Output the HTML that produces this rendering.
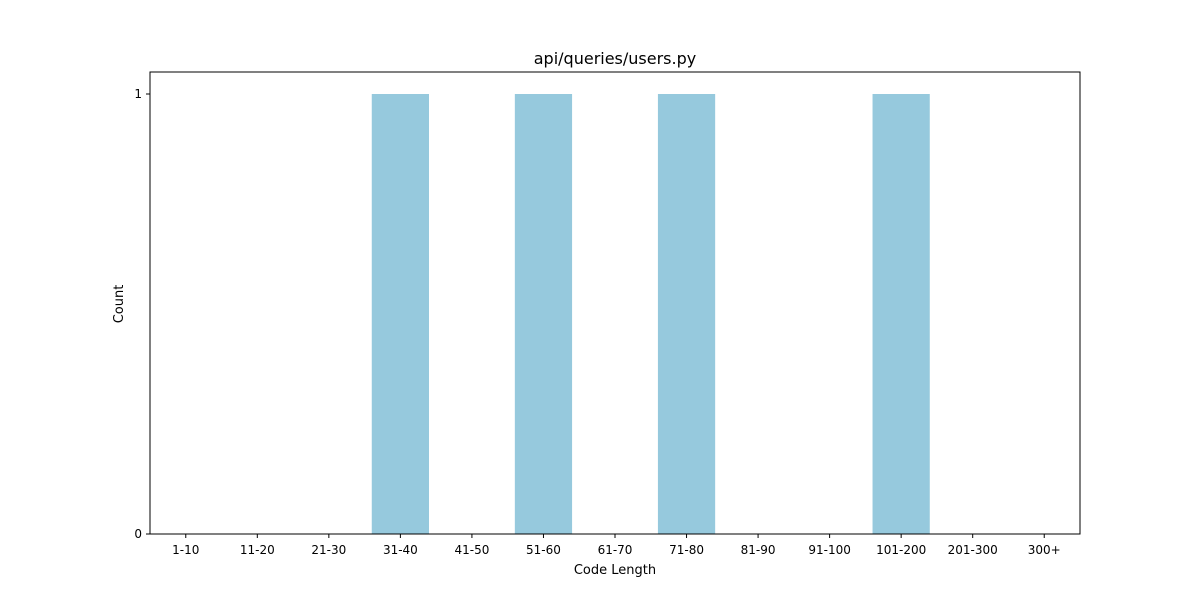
<!DOCTYPE html>
<html><head><meta charset="utf-8"><style>
body{margin:0;background:#fff;}
svg{display:block;font-family:"DejaVu Sans","Liberation Sans",sans-serif;}
</style></head><body>
<svg id="chart" width="1200" height="600">
<rect width="1200" height="600" fill="#fff"/>
<text x="615" y="64" font-size="16" text-anchor="middle">api/queries/users.py</text>
<text x="615" y="574" font-size="13" text-anchor="middle">Code Length</text>
<text transform="translate(123,304) rotate(-90)" font-size="13" text-anchor="middle">Count</text>
<g id="bars"></g><g id="xticks"></g><g id="yticks"></g>
<rect x="150" y="72" width="930" height="462" fill="none" stroke="#000" stroke-width="1"/>
</svg>
<script>
const categories=["1-10","11-20","21-30","31-40","41-50","51-60","61-70","71-80","81-90","91-100","101-200","201-300","300+"];
const counts=[0,0,0,1,0,1,0,1,0,0,1,0,0];
const yTicks=[0,1];
const L=150,R=1080,T=72,B=534,yMax=1.05;
const step=(R-L)/categories.length;
const xC=i=>L+step*(i+0.5);
const yS=v=>B-(B-T)*v/yMax;
const ns="http://www.w3.org/2000/svg";
const bars=document.getElementById('bars'),xt=document.getElementById('xticks'),yt=document.getElementById('yticks');
categories.forEach((c,i)=>{
  const r=document.createElementNS(ns,'rect');
  const w=step*0.8;
  r.setAttribute('x',xC(i)-w/2);r.setAttribute('width',w);
  r.setAttribute('y',yS(counts[i]));r.setAttribute('height',B-yS(counts[i]));
  r.setAttribute('fill','#96c9dd');
  
  
  bars.appendChild(r);
  const l=document.createElementNS(ns,'line');
  l.setAttribute('x1',xC(i));l.setAttribute('x2',xC(i));l.setAttribute('y1',B);l.setAttribute('y2',B+4);l.setAttribute('stroke','#000');
  
  
  xt.appendChild(l);
  const t=document.createElementNS(ns,'text');
  t.setAttribute('x',xC(i));t.setAttribute('y',B+20);t.setAttribute('font-size','12');t.setAttribute('text-anchor','middle');
  t.textContent=c;
  
  
  xt.appendChild(t);
});
yTicks.forEach(v=>{
  const l=document.createElementNS(ns,'line');
  l.setAttribute('x1',L-4);l.setAttribute('x2',L);l.setAttribute('y1',yS(v));l.setAttribute('y2',yS(v));l.setAttribute('stroke','#000');
  
  
  yt.appendChild(l);
  const t=document.createElementNS(ns,'text');
  t.setAttribute('x',L-8);t.setAttribute('y',yS(v)+4);t.setAttribute('font-size','12');t.setAttribute('text-anchor','end');
  t.textContent=v;
  
  
  yt.appendChild(t);
});
</script>
</body></html>
